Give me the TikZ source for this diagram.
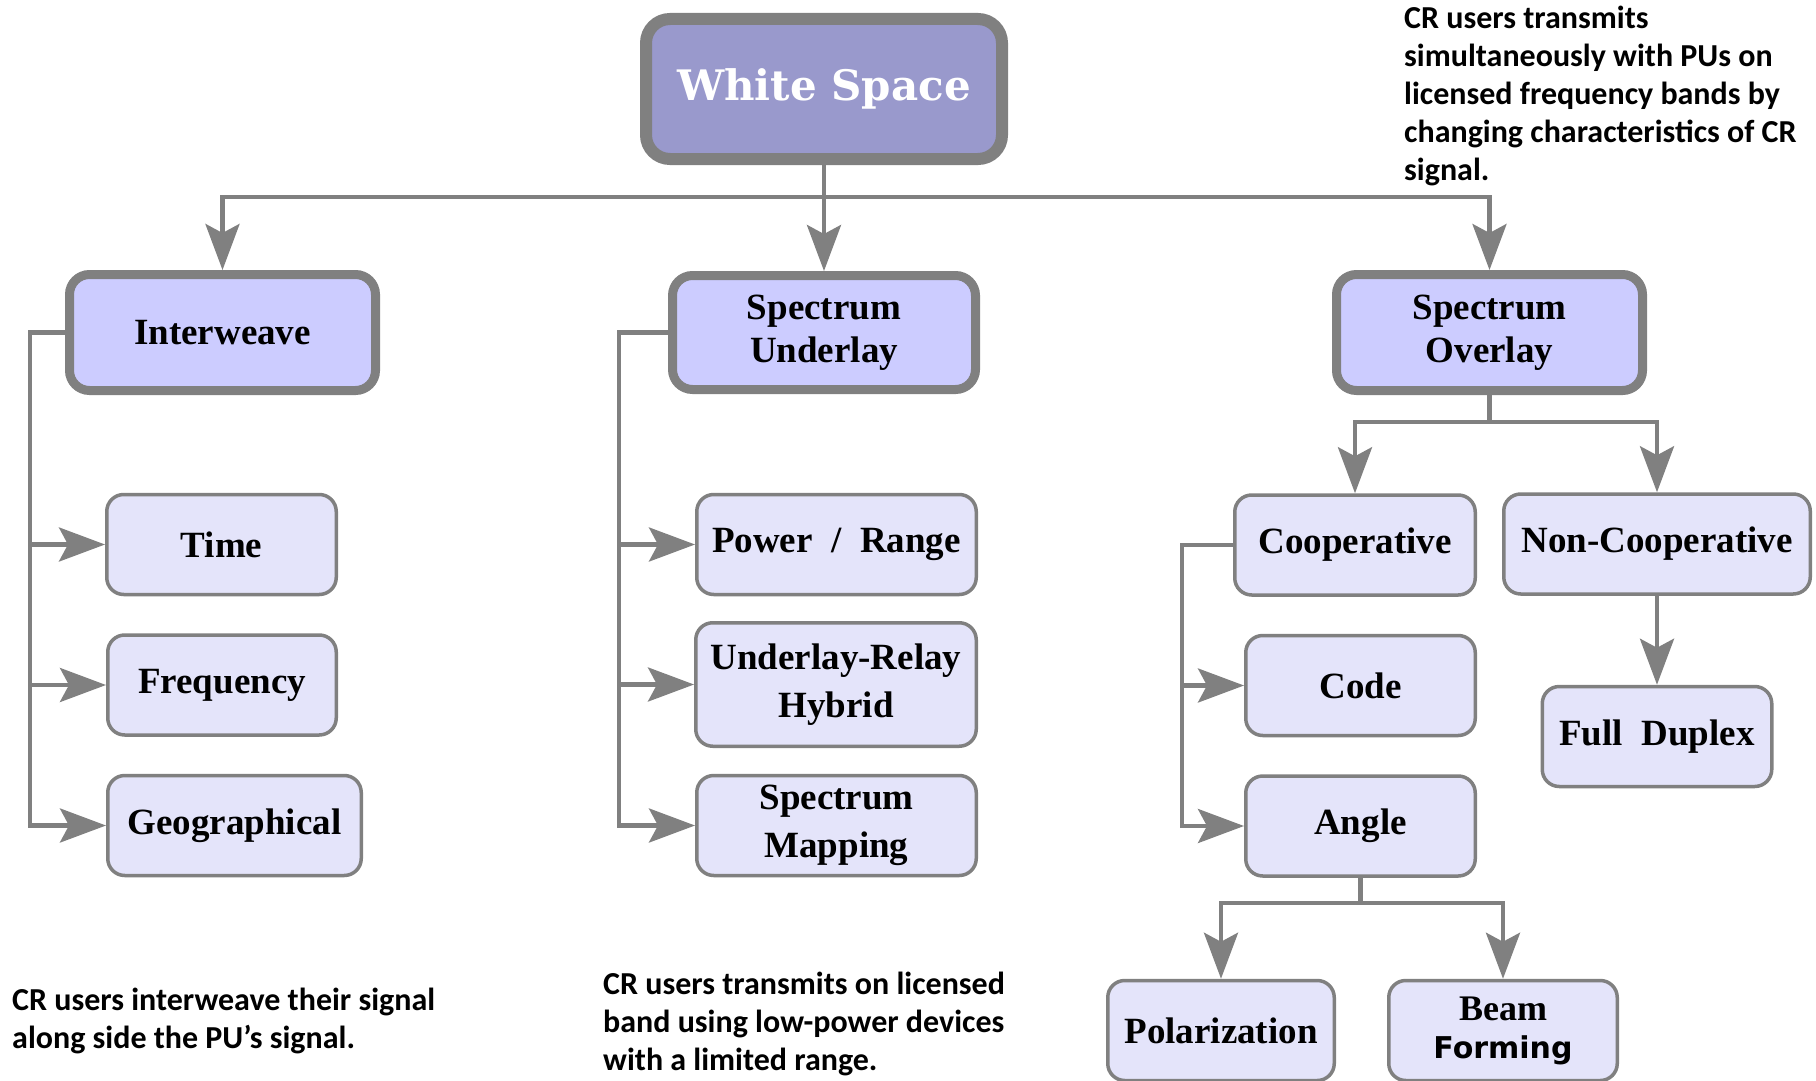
\documentclass[tikz,border=0pt]{standalone}
\usepackage{fontspec}
\setmainfont{Liberation Serif}
\newfontfamily\wsfont{DejaVu Serif}
\newfontfamily\beamsans{DejaVu Sans}
\newfontfamily\notefont{Carlito}
\usetikzlibrary{arrows.meta}

\definecolor{linegray}{HTML}{808080}
\definecolor{topfill}{HTML}{9999CC}
\definecolor{midfill}{HTML}{CCCCFF}
\definecolor{leaffill}{HTML}{E4E4FA}

\begin{document}
\begin{tikzpicture}[x=1pt,y=-1pt,
  conn/.style={draw=linegray, line width=4.2pt},
  arr/.style={conn, -{Stealth[length=46pt,width=34pt,inset=9pt]}},
  rootbox/.style={draw=linegray, fill=topfill, line width=12pt, rounded corners=24pt,
    text=white, inner sep=0pt, font=\wsfont\bfseries\fontsize{42}{48}\selectfont,
    minimum width=356pt, minimum height=140pt},
  midbox/.style={draw=linegray, fill=midfill, line width=9pt, rounded corners=20pt,
    align=center, inner sep=0pt, font=\bfseries\fontsize{37}{43}\selectfont,
    minimum height=116pt},
  leafbox/.style={draw=linegray, fill=leaffill, line width=3.5pt, rounded corners=17pt,
    align=center, inner sep=0pt, font=\bfseries\fontsize{37}{48}\selectfont,
    minimum height=100pt},
  note/.style={anchor=north west, inner sep=0pt, align=left,
    font=\notefont\bfseries\fontsize{32}{38}\selectfont}
]
% canvas
\useasboundingbox[fill=white] (0,0) rectangle (1816,1081);
\clip (0,0) rectangle (1816,1081);

% root and first level
\node[rootbox] (ws) at (824,89) {White Space};
\node[midbox, minimum width=306pt] (iw) at (222.5,332.5) {Interweave};
\node[midbox, minimum width=303pt, minimum height=114pt] (su) at (824,332.5) {Spectrum\\Underlay};
\node[midbox, minimum width=306pt] (so) at (1489.5,332.5) {Spectrum\\Overlay};

% interweave leaves
\node[leafbox, minimum width=229.5pt] (time) at (221.5,544.5) {Time};
\node[leafbox, minimum width=228.5pt] (freq) at (222,685) {Frequency};
\node[leafbox, minimum width=253.5pt] (geo) at (234.5,825.5) {Geographical};

% underlay leaves
\node[leafbox, minimum width=279.5pt] (pr) at (836.5,544.5) {Power\ \ /\ \ Range};
\node[leafbox, minimum width=280.5pt, minimum height=123.5pt] (urh) at (836,684.5) {Underlay-Relay\\Hybrid};
\node[leafbox, minimum width=279.5pt] (sm) at (836.5,825.5) {Spectrum\\Mapping};

% overlay leaves
\node[leafbox, minimum width=240.5pt] (coop) at (1355,545) {Cooperative};
\node[leafbox, minimum width=306.5pt] (ncoop) at (1657,544) {Non-Cooperative};
\node[leafbox, minimum width=229.5pt] (fd) at (1657,736.5) {Full\ \ Duplex};
\node[leafbox, minimum width=229.5pt] (code) at (1360.5,685.5) {Code};
\node[leafbox, minimum width=229.5pt] (angle) at (1360.5,826) {Angle};
\node[leafbox, minimum width=226.5pt] (pol) at (1221,1030.5) {Polarization};
\node[leafbox, minimum width=228.5pt, font=\bfseries\fontsize{36}{38}\selectfont] (bf) at (1503,1030.5)
  {Beam\\{\beamsans\fontsize{30}{38}\selectfont Forming}};

% root to first level
\coordinate (wsbus) at (824,197);
\draw[conn] (ws.south) -- (wsbus);
\draw[arr] (wsbus) -| (iw.north);
\draw[arr] (wsbus) -- (su.north);
\draw[arr] (wsbus) -| (so.north);

% interweave bracket
\draw[arr] (iw.west) -- ++(-35,0) |- (time.west);
\draw[arr] (iw.west) -- ++(-35,0) |- (freq.west);
\draw[arr] (iw.west) -- ++(-35,0) |- (geo.west);

% underlay bracket
\draw[arr] (su.west) -- ++(-49,0) |- (pr.west);
\draw[arr] (su.west) -- ++(-49,0) |- (urh.west);
\draw[arr] (su.west) -- ++(-49,0) |- (sm.west);

% overlay split
\coordinate (sobus) at (1489.5,422);
\draw[conn] (so.south) -- (sobus);
\draw[arr] (sobus) -| (coop.north);
\draw[arr] (sobus) -| (ncoop.north);
\draw[arr] (ncoop.south) -- (fd.north);

% cooperative bracket
\draw[arr] (coop.west) -- ++(-51,0) |- (code.west);
\draw[arr] (coop.west) -- ++(-51,0) |- (angle.west);

% angle split
\coordinate (anbus) at (1360.5,903);
\draw[conn] (angle.south) -- (anbus);
\draw[arr] (anbus) -| (pol.north);
\draw[arr] (anbus) -| (bf.north);

% descriptions
\node[note] (n1) at (1404,6) {CR users transmits\\simultaneously with PUs on\\licensed frequency bands by\\changing characteristics of CR\\signal.};
\node[note] (n2) at (12,988) {CR users interweave their signal\\along side the PU’s signal.};
\node[note] (n3) at (603,972) {CR users transmits on licensed\\band using low-power devices\\with a limited range.};
\end{tikzpicture}
\end{document}
